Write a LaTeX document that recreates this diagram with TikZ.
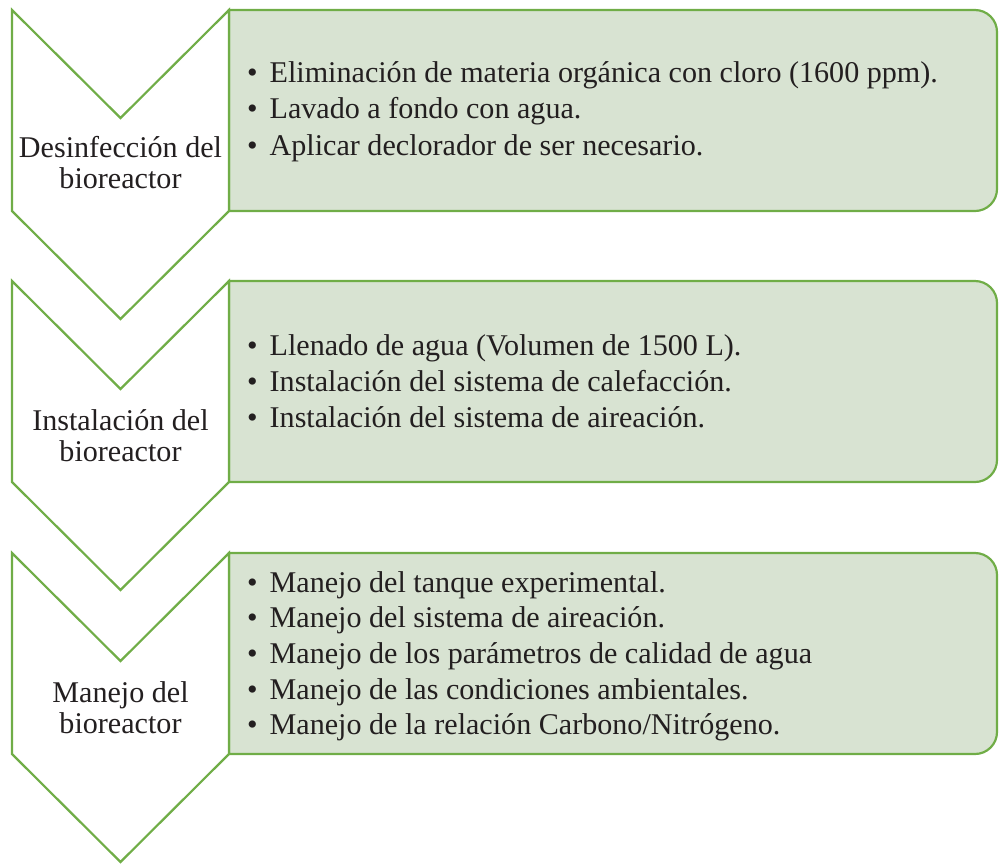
\documentclass[tikz,border=0pt]{standalone}
\usepackage{fontspec}
\setmainfont{Liberation Serif}
\definecolor{gline}{RGB}{112,173,71}
\definecolor{gfill}{RGB}{216,227,210}
\definecolor{txt}{RGB}{35,31,32}
\newcommand{\bul}{\makebox[22.5pt][l]{•}}
\begin{document}
\begin{tikzpicture}[x=1pt,y=-1pt,
  chev/.style={draw=gline, line width=2.2pt, fill=white, line join=miter},
  panel/.style={draw=gline, line width=2.2pt, fill=gfill},
  lbl/.style={font=\fontsize{30.1}{31}\selectfont, text=txt, inner sep=0pt, anchor=base},
  item/.style={font=\fontsize{30.1}{36}\selectfont, text=txt, inner sep=0pt, anchor=base west}]
\useasboundingbox (0,0) rectangle (999,863);
% chevrons and panels
\foreach \T in {10,281,553}{
  \draw[panel] (229,\T) -- (975,\T) .. controls (987.15,\T) and (997,\T+9.85) .. (997,\T+22)
     -- (997,\T+179) .. controls (997,\T+191.15) and (987.15,\T+201) .. (975,\T+201)
     -- (229,\T+201) -- cycle;
  \draw[chev] (12,\T) -- (120.5,\T+108) -- (229,\T) -- (229,\T+201) -- (120.5,\T+309) -- (12,\T+201) -- cycle;
}
% labels
\node[lbl] (l1a) at (120.5,157) {Desinfección del};
\node[lbl] (l1b) at (120.5,188) {bioreactor};
\node[lbl] (l2a) at (120.5,430) {Instalación del};
\node[lbl] (l2b) at (120.5,461) {bioreactor};
\node[lbl] (l3a) at (120.5,702) {Manejo del};
\node[lbl] (l3b) at (120.5,733) {bioreactor};
% panel 1
\node[item] (a1) at (247,82) {\bul Eliminación de materia orgánica con cloro (1600 ppm).};
\node[item] (a2) at (247,118.5) {\bul Lavado a fondo con agua.};
\node[item] (a3) at (247,155) {\bul Aplicar declorador de ser necesario.};
% panel 2
\node[item] (b1) at (247,355) {\bul Llenado de agua (Volumen de 1500 L).};
\node[item] (b2) at (247,391) {\bul Instalación del sistema de calefacción.};
\node[item] (b3) at (247,427) {\bul Instalación del sistema de aireación.};
% panel 3
\node[item] (c1) at (247,592) {\bul Manejo del tanque experimental.};
\node[item] (c2) at (247,627.7) {\bul Manejo del sistema de aireación.};
\node[item] (c3) at (247,663.4) {\bul Manejo de los parámetros de calidad de agua};
\node[item] (c4) at (247,699.1) {\bul Manejo de las condiciones ambientales.};
\node[item] (c5) at (247,734.8) {\bul Manejo de la relación Carbono/Nitrógeno.};
\end{tikzpicture}
\end{document}
